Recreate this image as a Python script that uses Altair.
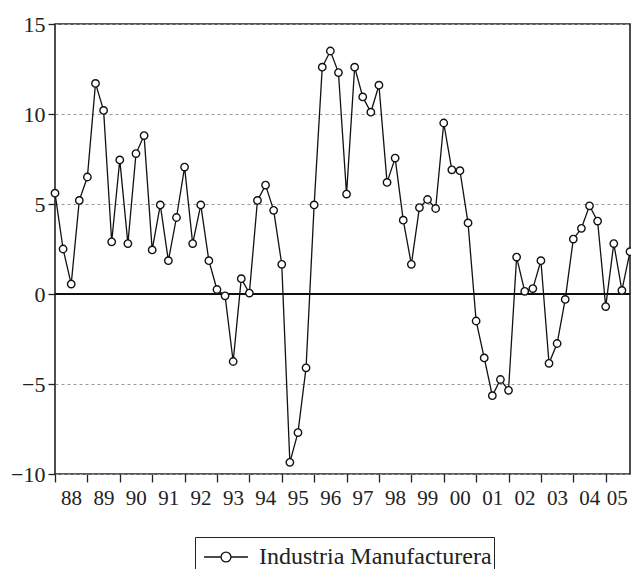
import altair as alt
import pandas as pd

years = ["88", "89", "90", "91", "92", "93", "94", "95", "96",
         "97", "98", "99", "00", "01", "02", "03", "04", "05"]
series_name = "Industria Manufacturera"
values = [
    5.6, 2.5, 0.55, 5.2,
    6.5, 11.7, 10.2, 2.9,
    7.45, 2.8, 7.8, 8.8,
    2.45, 4.95, 1.85, 4.25,
    7.05, 2.8, 4.95, 1.85,
    0.25, -0.1, -3.75, 0.85,
    0.05, 5.2, 6.05, 4.65,
    1.65, -9.35, -7.7, -4.1,
    4.95, 12.6, 13.5, 12.3,
    5.55, 12.6, 10.95, 10.1,
    11.6, 6.2, 7.55, 4.1,
    1.65, 4.8, 5.25, 4.75,
    9.5, 6.9, 6.85, 3.95,
    -1.5, -3.55, -5.65, -4.75,
    -5.35, 2.05, 0.15, 0.3,
    1.85, -3.85, -2.75, -0.3,
    3.05, 3.65, 4.9, 4.05,
    -0.7, 2.8, 0.2, 2.35,
]
y_ticks = [-10, -5, 0, 5, 10, 15]

df = pd.DataFrame({
    "t": list(range(len(values))),
    "v": values,
    "serie": [series_name] * len(values),
})

FONT = "Times New Roman, Liberation Serif, serif"
year_ticks = [4 * i for i in range(len(years))]
last_tick = year_ticks[-1]
label_expr = "[" + ",".join(f"'{y}'" for y in years) + "][round(datum.value/4)]"

x_axis = alt.Axis(
    values=year_ticks, labelExpr=label_expr, title=None, grid=False,
    domain=False, tickSize=8, tickColor="#222", tickWidth=1.3,
    labelOffset={"condition": {"test": f"datum.value == {last_tick}", "value": 11},
                 "value": 16},
    labelPadding=5, labelFont=FONT, labelFontSize=21,
    labelColor="#222", labelAngle=0, labelOverlap=False,
    labelBound=False, labelFlush=False,
)
y_axis = alt.Axis(
    values=y_ticks, title=None, grid=True, gridDash=[3, 3],
    gridColor="#9a9a9a", gridWidth=1, domain=False, tickSize=7,
    tickColor="#222", tickWidth=1.3, labelPadding=3, labelFont=FONT,
    labelFontSize=22, labelColor="#222", labelOverlap=False,
)
x_scale = alt.Scale(domain=[0, len(values) - 1], nice=False, zero=False)
y_scale = alt.Scale(domain=[-10, 15], nice=False)

zero = alt.Chart(df).mark_rule(color="#111", strokeWidth=1.6).encode(
    y=alt.datum(0)
)

line = alt.Chart(df).mark_line(strokeWidth=1.3).encode(
    x=alt.X("t:Q", scale=x_scale, axis=x_axis),
    y=alt.Y("v:Q", scale=y_scale, axis=y_axis),
    stroke=alt.Stroke(
        "serie:N",
        scale=alt.Scale(range=["#111"]),
        legend=alt.Legend(
            title=None, orient="none", legendX=140, legendY=513,
            symbolType="M-1.29,0H-0.29M0.29,0H1.29M0.29,0A0.29,0.29 0 1 1 -0.29,0A0.29,0.29 0 1 1 0.29,0",
            symbolSize=1156, symbolStrokeWidth=1.3, symbolFillColor="white",
            symbolStrokeColor="#111", symbolOffset=11,
            labelFont=FONT, labelFontSize=24,
            labelColor="#222", padding=2, strokeColor="#222",
            labelOffset=15, labelLimit=400,
        ),
    ),
)

points = alt.Chart(df).mark_point(
    shape="circle", filled=True, fill="white", stroke="#111",
    strokeWidth=1.4, size=55, opacity=1
).encode(
    x=alt.X("t:Q", scale=x_scale, axis=x_axis),
    y=alt.Y("v:Q", scale=y_scale, axis=y_axis),
)

chart = alt.layer(zero, line, points).properties(
    width=575,
    height=450,
    padding={"left": 47, "top": 16, "right": 1, "bottom": 95},
    autosize=alt.AutoSizeParams(type="none"),
    background="white",
).configure_view(
    stroke="#222", strokeWidth=1.6
).configure_axis(
    labelOverlap=False
)

chart.save("out.html", embed_options={"renderer": "svg", "actions": False})
